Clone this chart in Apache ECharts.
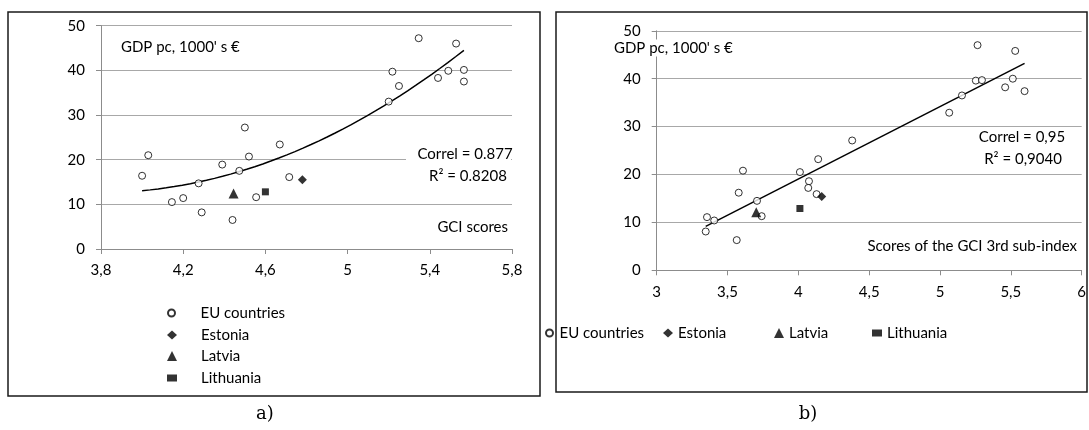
<!DOCTYPE html>
<html>
<head>
<meta charset="utf-8">
<script src="https://cdn.jsdelivr.net/npm/echarts@6/dist/echarts.min.js"></script>
<style>
  html, body { margin: 0; padding: 0; background: #fff; }
  #chart { width: 1089px; height: 430px; }
</style>
</head>
<body>
<div id="chart"></div>
<script>
// panel a) GCI scores vs GDP pc (1000's EUR)
var euGciA = [4.00, 4.03, 4.145, 4.20, 4.275, 4.29, 4.39, 4.44, 4.473, 4.50, 4.52, 4.555, 4.67, 4.716, 5.20, 5.218, 5.25, 5.346, 5.44, 5.49, 5.528, 5.566, 5.566];
var euGdpA = [16.4, 21.0, 10.5, 11.4, 14.7, 8.2, 18.9, 6.5, 17.5, 27.2, 20.7, 11.6, 23.4, 16.1, 33.0, 39.7, 36.5, 47.2, 38.3, 39.9, 46.0, 40.1, 37.5];
var estoniaA = [4.78, 15.5];
var latviaA = [4.445, 12.4];
var lithuaniaA = [4.60, 12.8];
var ticksA = [3.8, 4.2, 4.6, 5, 5.4, 5.8];

// panel b) 3rd sub-index scores vs GDP pc
var euSubB = [3.346, 3.355, 3.406, 3.565, 3.579, 3.609, 3.708, 3.741, 4.011, 4.075, 4.07, 4.129, 4.14, 4.38, 5.065, 5.155, 5.253, 5.296, 5.265, 5.531, 5.46, 5.514, 5.597];
var euGdpB = [8.1, 11.1, 10.4, 6.3, 16.2, 20.8, 14.5, 11.3, 20.5, 18.6, 17.2, 15.9, 23.2, 27.1, 32.9, 36.5, 39.6, 39.7, 47.0, 45.8, 38.2, 40.0, 37.4];
var estoniaB = [4.165, 15.4];
var latviaB = [3.703, 12.1];
var lithuaniaB = [4.011, 12.9];

var FONT = 'Lato';
var axisGray = '#8c8c8c';
var gridGray = '#a8a8a8';

function zip(xs, ys) {
  return xs.map(function (x, i) { return [x, ys[i]]; });
}

// least squares on (x, y), returns [intercept, slope]
function linFit(xs, ys) {
  var n = xs.length, sx = 0, sy = 0, sxx = 0, sxy = 0;
  for (var i = 0; i < n; i++) {
    sx += xs[i]; sy += ys[i]; sxx += xs[i] * xs[i]; sxy += xs[i] * ys[i];
  }
  var b = (n * sxy - sx * sy) / (n * sxx - sx * sx);
  return [(sy - b * sx) / n, b];
}

// 2nd order polynomial least squares, returns [c0, c1, c2]
function quadFit(xs, ys) {
  var s = [0, 0, 0, 0, 0], t = [0, 0, 0];
  for (var i = 0; i < xs.length; i++) {
    var p = 1;
    for (var j = 0; j < 5; j++) { s[j] += p; if (j < 3) t[j] += p * ys[i]; p *= xs[i]; }
  }
  var m = [[s[0], s[1], s[2], t[0]], [s[1], s[2], s[3], t[1]], [s[2], s[3], s[4], t[2]]];
  for (var c = 0; c < 3; c++) {
    for (var r = c + 1; r < 3; r++) {
      var f = m[r][c] / m[c][c];
      for (var q = c; q < 4; q++) m[r][q] -= f * m[c][q];
    }
  }
  var res = [0, 0, 0];
  for (var r2 = 2; r2 >= 0; r2--) {
    var v = m[r2][3];
    for (var q2 = r2 + 1; q2 < 3; q2++) v -= m[r2][q2] * res[q2];
    res[r2] = v / m[r2][r2];
  }
  return res;
}

// curved trendline for panel a
var polyA = quadFit(euGciA, euGdpA);
var loA = Math.min.apply(null, euGciA), hiA = Math.max.apply(null, euGciA);
var trendA = [];
for (var k = 0; k <= 40; k++) {
  var xv = loA + (hiA - loA) * k / 40;
  trendA.push([xv, polyA[0] + polyA[1] * xv + polyA[2] * xv * xv]);
}

var linCoef = linFit(euSubB, euGdpB);
var loB = Math.min.apply(null, euSubB), hiB = Math.max.apply(null, euSubB);
var trendB = [[loB, linCoef[0] + linCoef[1] * loB], [hiB, linCoef[0] + linCoef[1] * hiB]];

function comma(v) { return String(v).replace('.', ','); }

function xAxisOf(idx, min, max, extra) {
  var ax = {
    type: 'value', gridIndex: idx, min: min, max: max,
    axisLine: { show: true, onZero: false, lineStyle: { color: axisGray, width: 1 } },
    axisTick: { show: true, inside: false, length: 5, lineStyle: { color: axisGray } },
    axisLabel: { color: '#000', fontFamily: FONT, fontSize: 15, margin: 14, formatter: comma },
    splitLine: { show: false }
  };
  return Object.assign(ax, extra || {});
}

function yAxisOf(idx) {
  return {
    type: 'value', gridIndex: idx, min: 0, max: 50, interval: 10,
    axisLine: { show: true, lineStyle: { color: axisGray, width: 1 } },
    axisTick: { show: true, inside: false, length: 5, lineStyle: { color: axisGray } },
    axisLabel: { color: '#000', fontFamily: FONT, fontSize: 15, margin: 16 },
    splitLine: { show: true, lineStyle: { color: gridGray, width: 1.2 } }
  };
}

var euStyle = { color: '#fff', borderColor: '#000', borderWidth: 1 };
var blk = { color: '#000' };

function scatter(name, idx, data, symbol, size, style) {
  return {
    name: name, type: 'scatter', xAxisIndex: idx, yAxisIndex: idx,
    symbol: symbol, symbolSize: size, data: data, itemStyle: style, z: 5
  };
}

function legendAt(name, left, top, ih, textPad) {
  return {
    data: [name], left: left, top: top, itemWidth: 10, itemHeight: ih,
    selectedMode: false, padding: 0,
    textStyle: { fontFamily: FONT, fontSize: 15, color: '#000', lineHeight: 16, padding: [0, 0, 0, textPad] }
  };
}

function label(text, x, y, align, font, bg) {
  var el = {
    type: 'text', x: x, y: y, z: 20,
    style: {
      text: text, fill: '#000', font: font || ('15px ' + FONT),
      align: align, textAlign: align, verticalAlign: 'middle', textVerticalAlign: 'middle'
    }
  };
  if (bg) {
    el.style.backgroundColor = '#fff';
    el.style.padding = [1, 2];
  }
  return el;
}

var chart = echarts.init(document.getElementById('chart'), null, { renderer: 'canvas' });

var option = {
  backgroundColor: '#fff',
  animation: false,
  grid: [
    { left: 101, top: 25.7, width: 411, height: 223.3 },
    { left: 656.7, top: 30.8, width: 425.1, height: 239.5 }
  ],
  xAxis: [
    xAxisOf(0, 3.8, 5.8, {
      axisTick: { show: true, length: 5, customValues: ticksA, lineStyle: { color: axisGray } },
      axisLabel: { color: '#000', fontFamily: FONT, fontSize: 15, margin: 14, customValues: ticksA, formatter: comma }
    }),
    xAxisOf(1, 3, 6, { interval: 0.5 })
  ],
  yAxis: [yAxisOf(0), yAxisOf(1)],
  legend: [
    legendAt('EU countries', 167, 305, 7, 19),
    legendAt('Estonia', 167, 327, 9, 19),
    legendAt('Latvia', 167, 348, 10, 19),
    legendAt('Lithuania', 167, 370, 7, 19),
    legendAt('EU countries', 545, 325, 7, 0),
    legendAt('Estonia', 663, 325, 9, 0),
    legendAt('Latvia', 774, 325, 10, 0),
    legendAt('Lithuania', 872, 325, 7, 0)
  ],
  series: [
    scatter('EU countries', 0, zip(euGciA, euGdpA), 'circle', 7, euStyle),
    scatter('Estonia', 0, [estoniaA], 'diamond', 9, blk),
    scatter('Latvia', 0, [latviaA], 'triangle', 10, blk),
    scatter('Lithuania', 0, [lithuaniaA], 'rect', 7, blk),
    {
      name: 'trendA', type: 'line', xAxisIndex: 0, yAxisIndex: 0, data: trendA,
      showSymbol: false, silent: true, smooth: false, z: 4,
      lineStyle: { color: '#000', width: 1.5 }
    },
    scatter('EU countries', 1, zip(euSubB, euGdpB), 'circle', 7, euStyle),
    scatter('Estonia', 1, [estoniaB], 'diamond', 9, blk),
    scatter('Latvia', 1, [latviaB], 'triangle', 10, blk),
    scatter('Lithuania', 1, [lithuaniaB], 'rect', 7, blk),
    {
      name: 'trendB', type: 'line', xAxisIndex: 1, yAxisIndex: 1, data: trendB,
      showSymbol: false, silent: true, z: 4,
      lineStyle: { color: '#000', width: 1.5 }
    }
  ],
  graphic: [
    // panel frames
    { type: 'rect', shape: { x: 8, y: 12, width: 532, height: 384 }, style: { fill: 'none', stroke: '#1a1a1a', lineWidth: 1.5 }, z: 1 },
    { type: 'rect', shape: { x: 556, y: 12, width: 531, height: 380 }, style: { fill: 'none', stroke: '#1a1a1a', lineWidth: 1.5 }, z: 1 },
    // white box behind the correlation text in panel a
    { type: 'rect', shape: { x: 406, y: 141, width: 105, height: 47 }, style: { fill: '#fff' }, z: 15 },
    label('GDP pc, 1000\' s \u20ac', 121, 47, 'left'),
    label('Correl = 0.877', 465, 154, 'center'),
    label('R\u00b2 = 0.8208', 468, 176, 'center'),
    label('GCI scores', 508, 227, 'right'),
    label('GDP pc, 1000\' s \u20ac', 612, 48, 'left', null, true),
    label('Correl = 0,95', 1022, 137, 'center'),
    label('R\u00b2 = 0,9040', 1023, 159, 'center'),
    label('Scores of the GCI 3rd sub-index', 1077, 246, 'right'),
    label('a)', 265, 414, 'center', '18px "DejaVu Serif"'),
    label('b)', 808, 414, 'center', '18px "DejaVu Serif"')
  ]
};

chart.setOption(option);
</script>
</body>
</html>
